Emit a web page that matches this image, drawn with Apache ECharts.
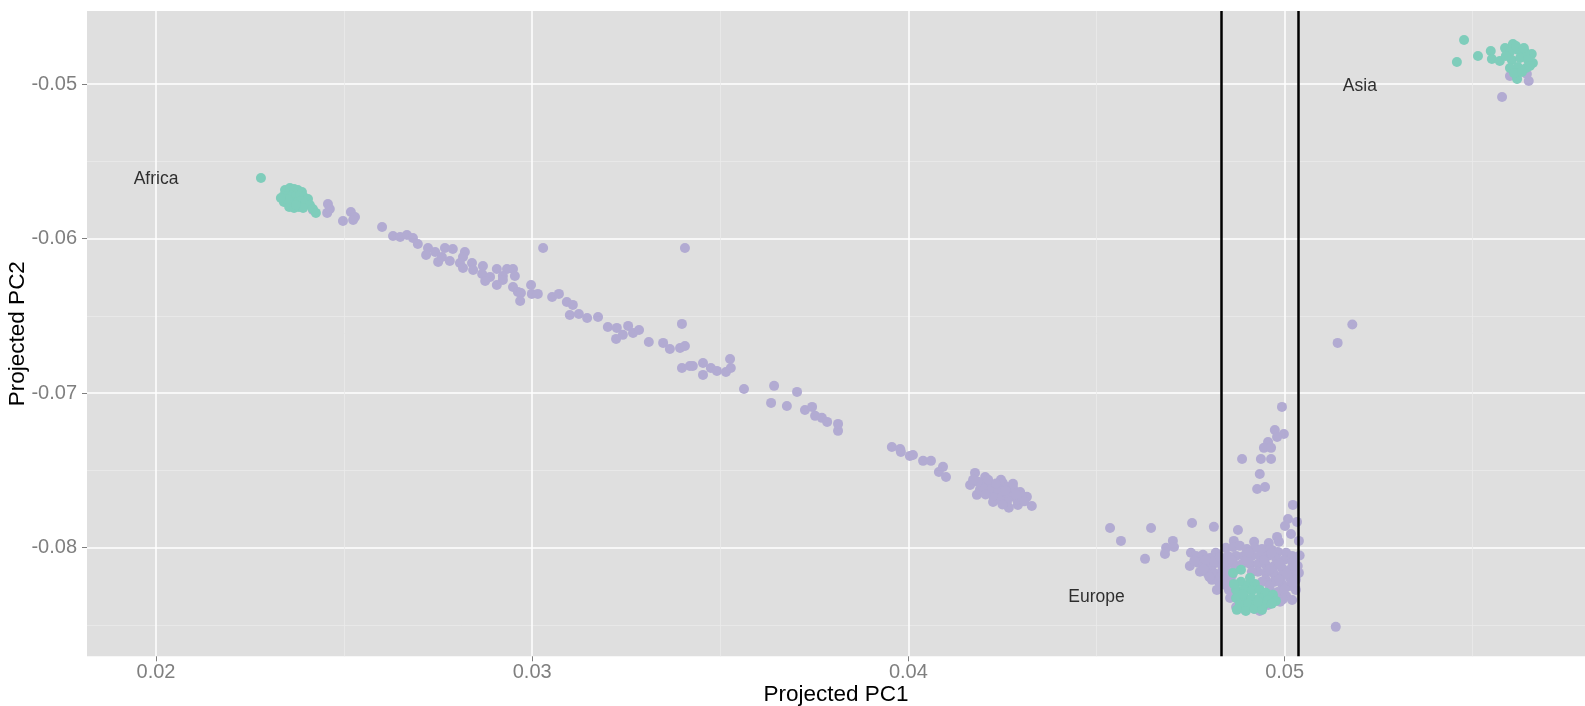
<!DOCTYPE html>
<html><head><meta charset="utf-8">
<script src="https://cdn.jsdelivr.net/npm/echarts@6/dist/echarts.min.js"></script>
<style>html,body{margin:0;padding:0;background:#fff}#chart{width:1585px;height:706px}</style>
</head><body><div id="chart"></div>
<script>
const xTicks = [0.02, 0.03, 0.04, 0.05];
const xTickLabels = ['0.02', '0.03', '0.04', '0.05'];
const xMinorTicks = [0.025, 0.035, 0.045, 0.055];
const yTicks = [-0.08, -0.07, -0.06, -0.05];
const yTickLabels = ['-0.08', '-0.07', '-0.06', '-0.05'];
const yMinorTicks = [-0.085, -0.075, -0.065, -0.055];
const xRange = [0.018166, 0.057985];
const yRange = [-0.087025, -0.045278];
const cutoffsPC1 = [0.04832, 0.05036];
const regionNames = ['Africa', 'Asia', 'Europe'];
const regionX = [0.02, 0.052, 0.045];
const regionY = [-0.05618, -0.05013, -0.08323];

// purple samples
const projectedSamples = [
[0.02417,-0.05815],[0.02457,-0.05776],[0.02455,-0.05834],[0.02462,-0.05809],[0.02518,-0.05828],[0.02529,-0.05860],[0.02524,-0.05880],[0.02497,-0.05886],[0.02601,-0.05925],[0.02630,-0.05983],[0.02649,-0.05990],[0.02667,-0.05977],[0.02683,-0.05996],[0.02696,-0.06035],[0.02723,-0.06061],[0.02718,-0.06106],[0.02742,-0.06087],[0.02750,-0.06151],[0.02768,-0.06061],[0.02789,-0.06067],[0.02760,-0.06119],[0.02781,-0.06145],[0.02821,-0.06087],[0.02816,-0.06119],[0.02808,-0.06158],[0.02816,-0.06190],[0.02840,-0.06158],[0.02843,-0.06203],[0.02869,-0.06177],[0.02867,-0.06229],[0.02888,-0.06248],[0.02875,-0.06274],[0.02906,-0.06197],[0.02933,-0.06197],[0.02949,-0.06197],[0.02922,-0.06242],[0.02954,-0.06242],[0.02922,-0.06268],[0.02906,-0.06300],[0.02949,-0.06313],[0.02962,-0.06345],[0.02970,-0.06352],[0.02968,-0.06404],[0.02997,-0.06300],[0.02999,-0.06358],[0.03015,-0.06358],[0.03029,-0.06061],[0.03053,-0.06378],[0.03071,-0.06358],[0.03092,-0.06410],[0.03108,-0.06429],[0.03100,-0.06494],[0.03124,-0.06488],[0.03146,-0.06514],[0.03175,-0.06507],[0.03201,-0.06572],[0.03225,-0.06578],[0.03223,-0.06649],[0.03255,-0.06565],[0.03241,-0.06623],[0.03268,-0.06611],[0.03284,-0.06591],[0.03310,-0.06669],[0.03348,-0.06675],[0.03366,-0.06714],[0.03393,-0.06708],[0.03406,-0.06695],[0.03398,-0.06552],[0.03406,-0.06061],[0.03398,-0.06837],[0.03419,-0.06824],[0.03427,-0.06824],[0.03454,-0.06805],[0.03454,-0.06882],[0.03475,-0.06837],[0.03491,-0.06856],[0.03515,-0.06863],[0.03528,-0.06837],[0.03526,-0.06779],[0.03563,-0.06973],[0.03643,-0.06953],[0.03635,-0.07063],[0.03677,-0.07083],[0.03704,-0.06992],[0.03725,-0.07109],[0.03744,-0.07089],[0.03752,-0.07147],[0.03770,-0.07160],[0.03784,-0.07186],[0.03813,-0.07244],[0.03813,-0.07199],
[0.03956,-0.07348],[0.03978,-0.07361],[0.03980,-0.07380],[0.04004,-0.07406],[0.04012,-0.07400],[0.04039,-0.07438],[0.04060,-0.07438],[0.04092,-0.07477],[0.04081,-0.07510],[0.04100,-0.07542],
[0.04177,-0.07516],[0.04164,-0.07594],[0.04182,-0.07658],[0.04204,-0.07542],[0.04209,-0.07581],[0.04225,-0.07594],[0.04251,-0.07581],[0.04262,-0.07607],[0.04278,-0.07613],[0.04297,-0.07639],[0.04315,-0.07671],[0.04328,-0.07730],[0.04291,-0.07723],[0.04267,-0.07742],[0.04225,-0.07704],[0.04190,-0.07626],[0.04217,-0.07639],[0.04235,-0.07645],[0.04251,-0.07658],[0.04270,-0.07671],[0.04289,-0.07691],[0.04262,-0.07704],[0.04243,-0.07691],[0.04225,-0.07665],[0.04198,-0.07607],[0.04185,-0.07574],[0.04172,-0.07561],[0.04275,-0.07639],[0.04302,-0.07671],[0.04222,-0.07613],[0.04246,-0.07561],[0.04278,-0.07587],[0.04212,-0.07560],[0.04238,-0.07620],[0.04258,-0.07630],[0.04285,-0.07655],[0.04205,-0.07655],[0.04250,-0.07720],[0.04233,-0.07585],[0.04308,-0.07700],
[0.04536,-0.07872],[0.04565,-0.07956],[0.04645,-0.07872],[0.04629,-0.08072],[0.04703,-0.07956],[0.04685,-0.08001],[0.04706,-0.07995],[0.04682,-0.08040],[0.04754,-0.07840],[0.04812,-0.07865],[0.04876,-0.07885],[0.04865,-0.07956],[0.04919,-0.07962],[0.04900,-0.08014],[0.04958,-0.07969],[0.04980,-0.07930],[0.04985,-0.07962],[0.04966,-0.08014],[0.05022,-0.07723],[0.05009,-0.07814],[0.05033,-0.07833],[0.05001,-0.07859],[0.05017,-0.07911],[0.05038,-0.07956],[0.05025,-0.08066],[0.05038,-0.08163],[0.05136,-0.08512],
[0.04993,-0.07089],[0.04974,-0.07238],[0.04998,-0.07264],[0.04980,-0.07283],[0.04956,-0.07316],[0.04945,-0.07354],[0.04964,-0.07354],[0.04887,-0.07426],[0.04937,-0.07426],[0.04964,-0.07426],[0.04934,-0.07523],[0.04927,-0.07620],[0.04948,-0.07607],
[0.05141,-0.06675],[0.05180,-0.06556],
[0.04751,-0.08033],[0.04764,-0.08053],[0.04783,-0.08046],[0.04802,-0.08066],[0.04817,-0.08033],[0.04748,-0.08118],[0.04770,-0.08098],[0.04788,-0.08118],[0.04807,-0.08118],[0.04825,-0.08098],[0.04775,-0.08156],[0.04796,-0.08169],[0.04815,-0.08169],[0.04833,-0.08156],[0.04807,-0.08208],[0.04825,-0.08221],[0.04820,-0.08273],[0.04841,-0.08240],[0.04760,-0.08085],[0.04790,-0.08080],[0.04812,-0.08090],[0.04785,-0.08140],[0.04800,-0.08190],[0.04830,-0.08190],[0.04835,-0.08120],[0.04828,-0.08060],
[0.04844,-0.08001],[0.04863,-0.07995],[0.04881,-0.07988],[0.04900,-0.08008],[0.04921,-0.08001],[0.04940,-0.08008],[0.04961,-0.08014],[0.04982,-0.08027],[0.05004,-0.08033],[0.05020,-0.08053],[0.04849,-0.08053],[0.04871,-0.08053],[0.04892,-0.08053],[0.04913,-0.08053],[0.04934,-0.08053],[0.04956,-0.08053],[0.04977,-0.08066],[0.04998,-0.08079],[0.05020,-0.08092],[0.05035,-0.08118],[0.04844,-0.08105],[0.04865,-0.08105],[0.04887,-0.08105],[0.04908,-0.08105],[0.04929,-0.08105],[0.04950,-0.08111],[0.04972,-0.08118],[0.04993,-0.08131],[0.05014,-0.08143],[0.05033,-0.08169],[0.04849,-0.08156],[0.04929,-0.08156],[0.04950,-0.08163],[0.04972,-0.08169],[0.04993,-0.08182],[0.05014,-0.08195],[0.05030,-0.08208],[0.04844,-0.08208],[0.04950,-0.08208],[0.04972,-0.08221],[0.04993,-0.08234],[0.05014,-0.08247],[0.05030,-0.08273],[0.04852,-0.08273],[0.04961,-0.08273],[0.04982,-0.08286],[0.05004,-0.08312],[0.05020,-0.08338],[0.04855,-0.08325],[0.04966,-0.08325],[0.04988,-0.08350],[0.04881,-0.08357],[0.04940,-0.08376],[0.04956,-0.08370],[0.04921,-0.08396],[0.04934,-0.08409],[0.04895,-0.08402],[0.04871,-0.08383],[0.04940,-0.08221],[0.04913,-0.08156],
[0.04860,-0.08080],[0.04900,-0.08080],[0.04945,-0.08080],[0.04985,-0.08100],[0.05025,-0.08120],[0.04870,-0.08130],[0.04960,-0.08140],[0.05005,-0.08165],[0.04985,-0.08205],[0.05022,-0.08225],[0.04960,-0.08245],[0.05000,-0.08265],[0.04975,-0.08300],[0.04995,-0.08335],[0.04860,-0.08180],[0.04855,-0.08240],[0.04865,-0.08300],[0.04905,-0.08030],[0.04965,-0.08035],[0.05040,-0.08050],
[0.05578,-0.05084],[0.05599,-0.04948],[0.05649,-0.04981],[0.05644,-0.04935]
];

// teal samples
const referenceSamples = [
[0.02279,-0.05608],[0.02343,-0.05686],[0.02356,-0.05673],[0.02367,-0.05679],[0.02377,-0.05686],[0.02388,-0.05699],[0.02340,-0.05724],[0.02351,-0.05724],[0.02362,-0.05718],[0.02372,-0.05724],[0.02383,-0.05724],[0.02393,-0.05731],[0.02404,-0.05744],[0.02340,-0.05763],[0.02351,-0.05770],[0.02362,-0.05763],[0.02375,-0.05763],[0.02385,-0.05757],[0.02396,-0.05770],[0.02409,-0.05783],[0.02354,-0.05796],[0.02367,-0.05802],[0.02380,-0.05796],[0.02391,-0.05802],[0.02417,-0.05809],[0.02425,-0.05834],[0.02346,-0.05744],[0.02372,-0.05783],[0.02332,-0.05737],
[0.04863,-0.08163],[0.04884,-0.08143],[0.04884,-0.08221],[0.04903,-0.08240],[0.04921,-0.08234],[0.04871,-0.08273],[0.04892,-0.08273],[0.04913,-0.08279],[0.04934,-0.08273],[0.04950,-0.08292],[0.04969,-0.08305],[0.04871,-0.08325],[0.04892,-0.08318],[0.04913,-0.08325],[0.04934,-0.08325],[0.04956,-0.08338],[0.04977,-0.08344],[0.04881,-0.08370],[0.04903,-0.08363],[0.04924,-0.08370],[0.04945,-0.08370],[0.04966,-0.08363],[0.04873,-0.08402],[0.04897,-0.08409],[0.04919,-0.08396],[0.04940,-0.08402],[0.04889,-0.08299],[0.04908,-0.08195],[0.04929,-0.08350],[0.04865,-0.08234],
[0.05477,-0.04715],[0.05458,-0.04858],[0.05514,-0.04819],[0.05548,-0.04787],[0.05551,-0.04838],[0.05572,-0.04851],[0.05588,-0.04774],[0.05607,-0.04748],[0.05618,-0.04968],[0.05586,-0.04767],[0.05607,-0.04741],[0.05657,-0.04806],[0.05660,-0.04864],[0.05599,-0.04793],[0.05620,-0.04780],[0.05639,-0.04793],[0.05604,-0.04845],[0.05626,-0.04832],[0.05647,-0.04845],[0.05599,-0.04897],[0.05620,-0.04890],[0.05642,-0.04897],[0.05610,-0.04930],[0.05631,-0.04922],[0.05652,-0.04884],[0.05615,-0.04754],[0.05636,-0.04767],[0.05588,-0.04819]
];

const FONT = '"Liberation Sans", Arial, Helvetica, sans-serif';
function lab(ticks, labels) {
  return function (v) {
    for (let i = 0; i < ticks.length; i++) if (Math.abs(ticks[i] - v) < 1e-9) return labels[i];
    return '';
  };
}
const tickStyle = { color: '#7F7F7F', width: 1 };
const chart = echarts.init(document.getElementById('chart'), null, { renderer: 'canvas' });
chart.setOption({
  animation: false,
  backgroundColor: '#FFFFFF',
  grid: { left: 87, right: 0, top: 11, bottom: 49.7, show: true, backgroundColor: '#DFDFDF', borderWidth: 0, containLabel: false, outerBoundsMode: 'none' },
  xAxis: [
    { type: 'value', min: xRange[0], max: xRange[1], position: 'bottom',
      name: 'Projected PC1', nameLocation: 'middle', nameGap: 27, nameMoveOverlap: false,
      nameTextStyle: { color: '#000', fontSize: 22.5, fontFamily: FONT },
      axisLine: { show: false },
      axisTick: { show: true, customValues: xTicks, length: 5, lineStyle: tickStyle },
      axisLabel: { show: true, customValues: xTicks, formatter: lab(xTicks, xTickLabels), margin: 6, color: '#7F7F7F', fontSize: 20, fontFamily: FONT },
      splitLine: { show: true, lineStyle: { color: '#FFFFFF', width: 1.5 } } },
    { type: 'value', min: xRange[0], max: xRange[1], position: 'bottom',
      axisLine: { show: false },
      axisTick: { show: false, customValues: xMinorTicks },
      axisLabel: { show: false },
      splitLine: { show: true, lineStyle: { color: '#EAEAEA', width: 0.8 } } }
  ],
  yAxis: [
    { type: 'value', min: yRange[0], max: yRange[1], position: 'left',
      name: 'Projected PC2', nameLocation: 'middle', nameGap: 58, nameRotate: 90, nameMoveOverlap: false,
      nameTextStyle: { color: '#000', fontSize: 22.5, fontFamily: FONT },
      axisLine: { show: false },
      axisTick: { show: true, customValues: yTicks, length: 5, lineStyle: tickStyle },
      axisLabel: { show: true, customValues: yTicks, formatter: lab(yTicks, yTickLabels), margin: 10, color: '#7F7F7F', fontSize: 20, fontFamily: FONT },
      splitLine: { show: true, lineStyle: { color: '#FFFFFF', width: 1.5 } } },
    { type: 'value', min: yRange[0], max: yRange[1], position: 'left',
      axisLine: { show: false },
      axisTick: { show: false, customValues: yMinorTicks },
      axisLabel: { show: false },
      splitLine: { show: true, lineStyle: { color: '#EAEAEA', width: 0.8 } } }
  ],
  series: [
    { type: 'scatter', name: 'projected', xAxisIndex: 0, yAxisIndex: 0, data: projectedSamples,
      symbol: 'circle', symbolSize: 10, itemStyle: { color: '#B2ABD2', opacity: 1 }, silent: true, z: 2 },
    { type: 'scatter', name: 'reference', xAxisIndex: 0, yAxisIndex: 0, data: referenceSamples,
      symbol: 'circle', symbolSize: 10, itemStyle: { color: '#7FCDBB', opacity: 1 }, silent: true, z: 3 },
    { type: 'scatter', name: 'regions', xAxisIndex: 0, yAxisIndex: 0,
      data: regionNames.map((n, i) => ({ name: n, value: [regionX[i], regionY[i]] })),
      symbolSize: 1, itemStyle: { color: 'rgba(0,0,0,0)' }, silent: true, z: 4,
      label: { show: true, position: 'inside', formatter: '{b}', color: '#000000', fontSize: 17.5, fontFamily: FONT, textBorderWidth: 0 } },
    { type: 'line', name: 'cutoffs', xAxisIndex: 0, yAxisIndex: 0, data: [], silent: true, z: 5,
      markLine: { silent: true, symbol: ['none', 'none'], label: { show: false }, animation: false,
        lineStyle: { color: '#000', width: 2.5, type: 'solid' },
        emphasis: { disabled: true },
        data: cutoffsPC1.map(v => [{ coord: [v, yRange[0]] }, { coord: [v, yRange[1]] }]) } }
  ]
});
</script></body></html>
